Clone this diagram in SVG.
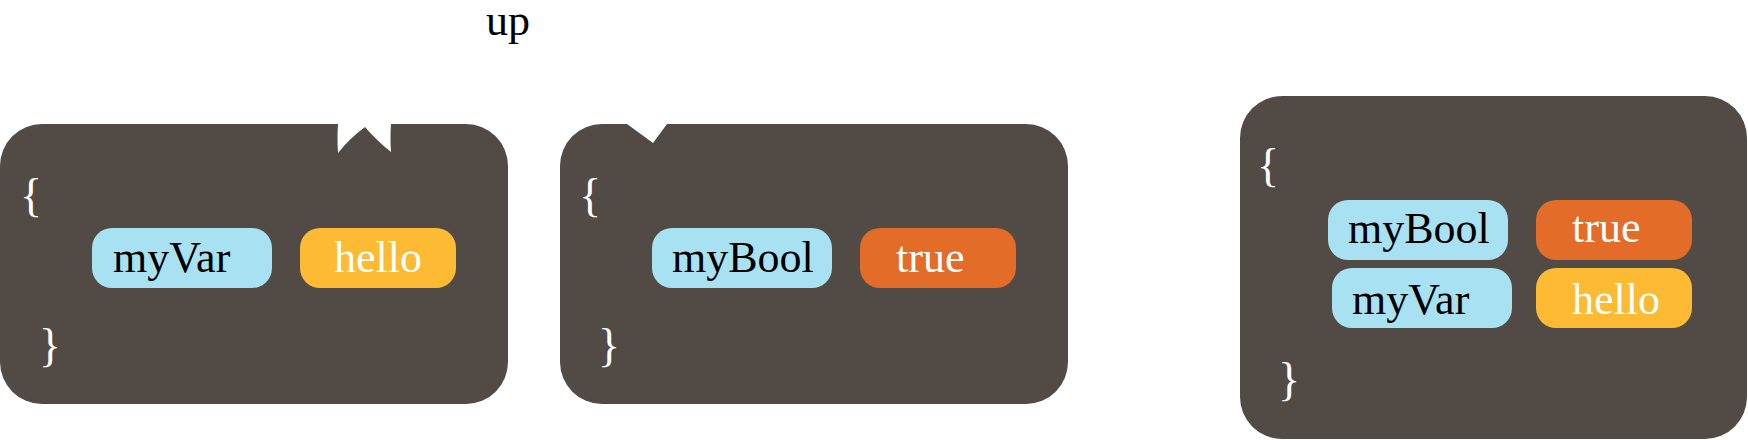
<svg xmlns="http://www.w3.org/2000/svg" width="1748" height="440" viewBox="0 0 1748 440">
<style>
.box{fill:#524a45}
.name{fill:#a8e2f2}
.str{fill:#fdba33}
.bool{fill:#e36c28}
text{font-family:"Liberation Serif","Times New Roman",serif;font-size:44px}
.dark{fill:#000}
.light{fill:#fff}
.brace{fill:#fff;font-size:46px}
</style>
<rect width="1748" height="440" fill="#fff"/>
<text x="486" y="35" class="dark">up</text>
<g id="block1">
<path class="box" d="M42,124 H338 Q337,138 338,153 Q350,138 365,127 Q377,141 391,152 Q390,138 391,124 H466 A42,42 0 0 1 508,166 V362 A42,42 0 0 1 466,404 H42 A42,42 0 0 1 0,362 V166 A42,42 0 0 1 42,124 Z"/>
<text x="20" y="211" class="brace">{</text>
<text x="39" y="361" class="brace">}</text>
<g id="myVar1"><rect class="name" x="92" y="228" width="180" height="60" rx="20"/><text x="113" y="272" class="dark">myVar</text></g>
<g id="hello1"><rect class="str" x="300" y="228" width="156" height="60" rx="20"/><text x="334" y="272" class="light">hello</text></g>
</g>
<g id="block2">
<path class="box" d="M602,124 H627 L653,143 L667,124 H1026 A42,42 0 0 1 1068,166 V362 A42,42 0 0 1 1026,404 H602 A42,42 0 0 1 560,362 V166 A42,42 0 0 1 602,124 Z"/>
<text x="579" y="211" class="brace">{</text>
<text x="598" y="361" class="brace">}</text>
<g id="myBool2"><rect class="name" x="652" y="228" width="180" height="60" rx="20"/><text x="672" y="272" class="dark">myBool</text></g>
<g id="true2"><rect class="bool" x="860" y="228" width="156" height="60" rx="20"/><text x="896" y="272" class="light">true</text></g>
</g>
<g id="block3">
<rect class="box" x="1240" y="96" width="507" height="343" rx="42"/>
<text x="1257" y="181" class="brace">{</text>
<text x="1278" y="395" class="brace">}</text>
<g id="myBool3"><rect class="name" x="1328" y="200" width="180" height="60" rx="20"/><text x="1348" y="243" class="dark">myBool</text></g>
<g id="true3"><rect class="bool" x="1536" y="200" width="156" height="60" rx="20"/><text x="1572" y="242" class="light">true</text></g>
<g id="myVar3"><rect class="name" x="1332" y="268" width="180" height="60" rx="20"/><text x="1352" y="314" class="dark">myVar</text></g>
<g id="hello3"><rect class="str" x="1536" y="268" width="156" height="60" rx="20"/><text x="1572" y="314" class="light">hello</text></g>
</g>
<g id="connectors"></g>
</svg>
